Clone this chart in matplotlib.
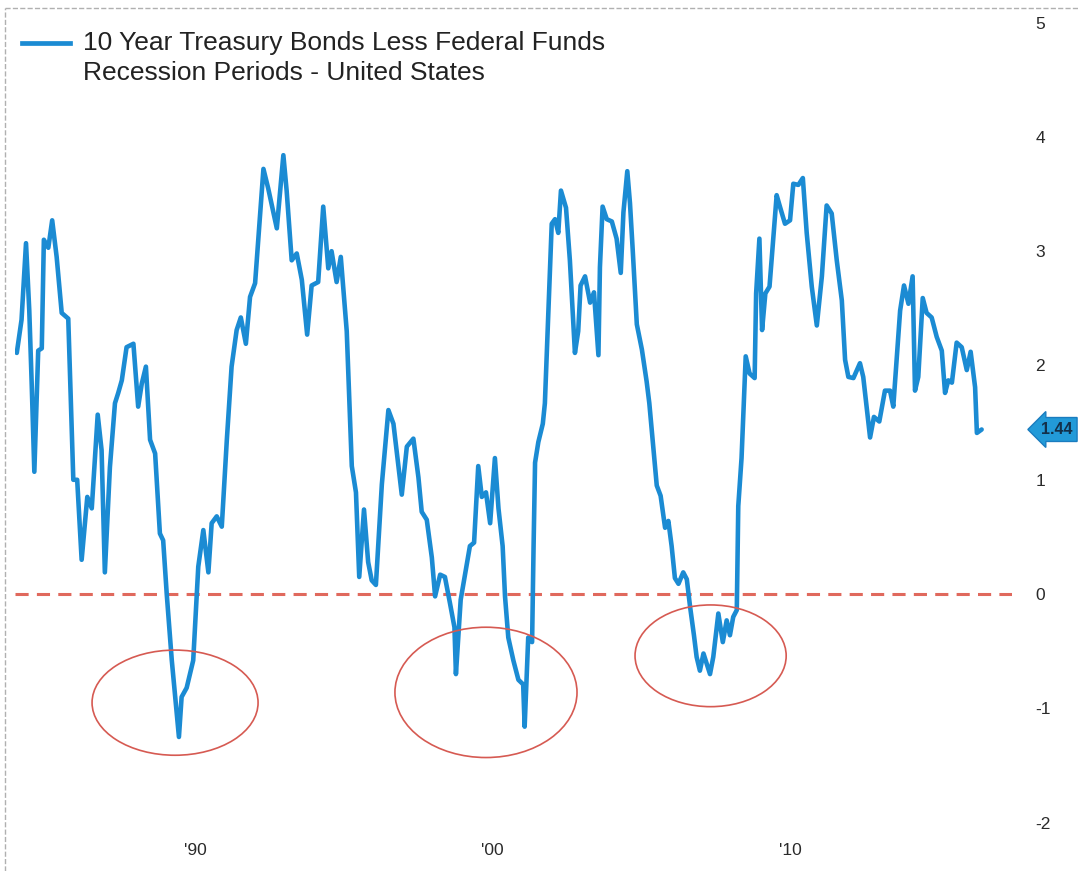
import matplotlib.pyplot as plt
from matplotlib.patches import Ellipse
from matplotlib.lines import Line2D
import matplotlib.transforms as mtransforms

plt.rcParams['font.family'] = ['Liberation Sans', 'DejaVu Sans']

# spread (10y treasury minus fed funds), decimal years
years = [1984.01, 1984.17, 1984.32, 1984.43, 1984.51, 1984.60, 1984.73, 1984.85, 1984.92, 1985.07,
         1985.20, 1985.35, 1985.52, 1985.74, 1985.91, 1986.04, 1986.19, 1986.38, 1986.53, 1986.73,
         1986.86, 1986.97, 1987.14, 1987.31, 1987.42, 1987.54, 1987.70, 1987.93, 1988.09, 1988.21,
         1988.35, 1988.49, 1988.66, 1988.82, 1988.93, 1989.05, 1989.22, 1989.46, 1989.55, 1989.72,
         1989.94, 1990.06, 1990.11, 1990.28, 1990.45, 1990.56, 1990.73, 1990.90, 1991.07, 1991.23,
         1991.40, 1991.54, 1991.71, 1991.85, 1992.02, 1992.30, 1992.46, 1992.75, 1992.97, 1993.08,
         1993.25, 1993.42, 1993.59, 1993.77, 1993.92, 1994.14, 1994.31, 1994.48, 1994.59, 1994.76,
         1994.90, 1995.10, 1995.27, 1995.41, 1995.52, 1995.68, 1995.82, 1995.94, 1996.08, 1996.28,
         1996.50, 1996.67, 1996.95, 1997.12, 1997.34, 1997.51, 1997.62, 1997.79, 1997.96, 1998.07,
         1998.24, 1998.40, 1998.57, 1998.72, 1998.77, 1998.93, 1999.08, 1999.24, 1999.38, 1999.52,
         1999.64, 1999.78, 1999.92, 2000.08, 2000.20, 2000.34, 2000.42, 2000.53, 2000.70, 2000.87,
         2001.03, 2001.08, 2001.20, 2001.33, 2001.38, 2001.43, 2001.54, 2001.69, 2001.76, 2001.88,
         2001.99, 2002.10, 2002.21, 2002.30, 2002.47, 2002.60, 2002.77, 2002.88, 2002.96, 2003.11,
         2003.28, 2003.41, 2003.56, 2003.61, 2003.70, 2003.84, 2004.01, 2004.17, 2004.31, 2004.40,
         2004.53, 2004.62, 2004.71, 2004.85, 2005.02, 2005.18, 2005.27, 2005.40, 2005.52, 2005.65,
         2005.80, 2005.91, 2006.02, 2006.13, 2006.25, 2006.41, 2006.53, 2006.64, 2006.77, 2006.86,
         2006.97, 2007.09, 2007.20, 2007.31, 2007.42, 2007.59, 2007.74, 2007.87, 2007.98, 2008.09,
         2008.21, 2008.26, 2008.37, 2008.51, 2008.64, 2008.81, 2008.86, 2008.97, 2009.06, 2009.17,
         2009.31, 2009.55, 2009.66, 2009.83, 2010.00, 2010.11, 2010.28, 2010.43, 2010.56, 2010.73,
         2010.90, 2011.07, 2011.23, 2011.40, 2011.57, 2011.74, 2011.85, 2011.96, 2012.13, 2012.35,
         2012.46, 2012.69, 2012.82, 2013.00, 2013.19, 2013.36, 2013.47, 2013.70, 2013.83, 2013.98,
         2014.12, 2014.20, 2014.31, 2014.46, 2014.59, 2014.76, 2014.93, 2015.10, 2015.21, 2015.32,
         2015.44, 2015.60, 2015.77, 2015.94, 2016.07, 2016.22, 2016.28, 2016.44]
spread = [2.11, 2.40, 3.07, 2.48, 1.85, 1.07, 2.13, 2.15, 3.10, 3.03,
          3.27, 2.95, 2.46, 2.41, 1.00, 1.00, 0.30, 0.85, 0.75, 1.57,
          1.26, 0.19, 1.11, 1.67, 1.76, 1.87, 2.16, 2.19, 1.64, 1.84,
          1.99, 1.35, 1.23, 0.53, 0.47, 0.00, -0.58, -1.25, -0.90, -0.82,
          -0.58, 0.00, 0.24, 0.56, 0.19, 0.62, 0.68, 0.59, 1.35, 1.99,
          2.31, 2.42, 2.19, 2.60, 2.72, 3.72, 3.55, 3.20, 3.84, 3.53,
          2.92, 2.98, 2.75, 2.27, 2.70, 2.73, 3.39, 2.85, 3.00, 2.73,
          2.95, 2.30, 1.12, 0.89, 0.15, 0.74, 0.28, 0.12, 0.08, 0.96,
          1.61, 1.49, 0.87, 1.29, 1.36, 1.02, 0.72, 0.65, 0.32, -0.02,
          0.17, 0.15, -0.08, -0.29, -0.70, -0.05, 0.18, 0.42, 0.45, 1.12,
          0.85, 0.89, 0.62, 1.19, 0.75, 0.42, -0.02, -0.38, -0.58, -0.75,
          -0.79, -1.16, -0.38, -0.42, 0.42, 1.15, 1.33, 1.49, 1.67, 2.48,
          3.24, 3.28, 3.16, 3.53, 3.38, 2.92, 2.11, 2.30, 2.70, 2.78,
          2.55, 2.64, 2.09, 2.86, 3.39, 3.28, 3.26, 3.11, 2.81, 3.34,
          3.70, 3.42, 3.02, 2.36, 2.14, 1.86, 1.67, 1.30, 0.95, 0.86,
          0.58, 0.64, 0.42, 0.14, 0.09, 0.19, 0.13, -0.11, -0.36, -0.55,
          -0.67, -0.52, -0.61, -0.70, -0.55, -0.17, -0.42, -0.23, -0.36, -0.20,
          -0.14, 0.77, 1.19, 2.08, 1.93, 1.89, 2.63, 3.11, 2.31, 2.63,
          2.69, 3.49, 3.39, 3.24, 3.27, 3.59, 3.58, 3.64, 3.16, 2.69,
          2.35, 2.78, 3.40, 3.33, 2.92, 2.57, 2.05, 1.90, 1.89, 2.02,
          1.90, 1.37, 1.55, 1.51, 1.78, 1.78, 1.64, 2.48, 2.70, 2.54,
          2.78, 1.78, 1.90, 2.59, 2.46, 2.42, 2.25, 2.13, 1.76, 1.87,
          1.85, 2.20, 2.16, 1.96, 2.12, 1.81, 1.41, 1.44]

# recession circles: center year, center value, width (years), height
circle_x = [1989.33, 1999.78, 2007.33]
circle_y = [-0.95, -0.86, -0.54]
circle_w = [5.58, 6.12, 5.08]
circle_h = [0.92, 1.14, 0.89]

ytick_vals = [-2, -1, 0, 1, 2, 3, 4, 5]
xtick_years = [1990, 2000, 2010]
xtick_labels = ["'90", "'00", "'10"]
last_value = 1.44

fig = plt.figure(figsize=(10.79, 8.71), dpi=100)
ax = fig.add_axes([0.0139, 0.0413, 0.924, 0.9472])

blue = '#1b8bd3'
ax.plot(years, spread, color=blue, lw=3.3, solid_joinstyle='round', solid_capstyle='round', zorder=3)
ax.axhline(0, color='#e0695d', lw=2.2, ls=(0, (4.3, 2.7)), zorder=2)

for cx, cy, w, h in zip(circle_x, circle_y, circle_w, circle_h):
    ax.add_patch(Ellipse((cx, cy), w, h, fill=False, edgecolor='#d65a52', lw=1.2, zorder=4))

ax.set_xlim(1983.95, 2017.46)
ax.set_ylim(-2.108, 5.11)

ax.yaxis.tick_right()
ax.set_yticks(ytick_vals)
ax.set_yticklabels([str(v) for v in ytick_vals])
ax.set_xticks(xtick_years)
ax.set_xticklabels(xtick_labels)
ax.tick_params(axis='both', length=0, labelsize=12.5, colors='#2a2a2a')
ax.tick_params(axis='y', pad=17)
ax.tick_params(axis='x', pad=6)
for s in ax.spines.values():
    s.set_visible(False)

# last value tag
trans = mtransforms.blended_transform_factory(ax.transAxes, ax.transData)
ax.text(1.045, last_value, '%.2f' % last_value, transform=trans, ha='center', va='center',
        fontsize=11.5, fontweight='bold', color='#13304a', clip_on=False,
        bbox=dict(boxstyle='larrow,pad=0.28', fc='#229ad8', ec='#1a7cbf', lw=1))

# legend block
fig.add_artist(Line2D([22 / 1079, 70 / 1079], [1 - 43 / 871, 1 - 43 / 871], color=blue, lw=3.4))
fig.text(83 / 1079, 1 - 43 / 871, '10 Year Treasury Bonds Less Federal Funds',
         fontsize=19, color='#222222', va='center', ha='left')
fig.text(83 / 1079, 1 - 73 / 871, 'Recession Periods - United States',
         fontsize=19, color='#222222', va='center', ha='left')

# faint scan border
fig.add_artist(Line2D([5 / 1079, 5 / 1079], [0, 1 - 8 / 871], color='#b0b0b0', lw=1, ls='--'))
fig.add_artist(Line2D([5 / 1079, 1], [1 - 8 / 871, 1 - 8 / 871], color='#b0b0b0', lw=1, ls='--'))

fig.savefig('out.png', dpi=100)
